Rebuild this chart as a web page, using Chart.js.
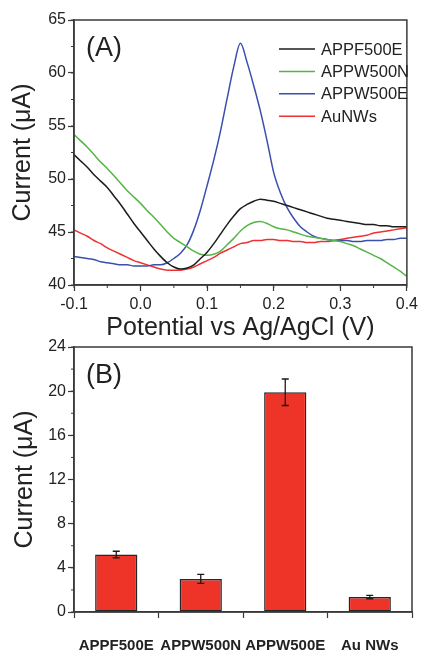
<!DOCTYPE html>
<html>
<head>
<meta charset="utf-8">
<script src="https://cdn.jsdelivr.net/npm/chart.js@4.4.0/dist/chart.umd.min.js"></script>
<style>
  html, body { margin: 0; padding: 0; background: #ffffff; }
  #wrap { position: relative; width: 422px; height: 653px; overflow: hidden; }
  #cvA { position: absolute; left: 0; top: 0; }
  #cvB { position: absolute; left: 0; top: 330px; }
</style>
</head>
<body>
<div id="wrap">
  <canvas id="cvB" width="422" height="323"></canvas>
  <canvas id="cvA" width="422" height="345"></canvas>
</div>
<script>
// Panel (A): DPV curves, potential in V
const potential = [
  -0.10, -0.09, -0.08, -0.07, -0.06, -0.05, -0.04, -0.03, -0.02, -0.01,
   0.00,  0.01,  0.02,  0.03,  0.04,  0.05,  0.06,  0.07,  0.08,  0.09,
   0.10,  0.11,  0.12,  0.13,  0.14,  0.15,  0.16,  0.17,  0.18,  0.19,
   0.20,  0.21,  0.22,  0.23,  0.24,  0.25,  0.26,  0.27,  0.28,  0.29,
   0.30,  0.31,  0.32,  0.33,  0.34,  0.35,  0.36,  0.37,  0.38,  0.39, 0.40
];
const appf500e = [
  52.3, 51.7, 51.1, 50.4, 49.8, 49.2, 48.4, 47.6, 46.7, 45.8,
  45.0, 44.2, 43.4, 42.7, 42.1, 41.7, 41.5, 41.6, 41.9, 42.5,
  43.1, 43.9, 44.8, 45.7, 46.5, 47.2, 47.6, 47.9, 48.1, 48.0,
  47.9, 47.7, 47.5, 47.3, 47.1, 46.9, 46.7, 46.5, 46.3, 46.2,
  46.1, 46.0, 45.9, 45.8, 45.7, 45.7, 45.6, 45.6, 45.5, 45.5, 45.5
];
const appw500n = [
  54.2, 53.6, 53.0, 52.3, 51.6, 51.0, 50.3, 49.6, 48.9, 48.3,
  47.7, 47.0, 46.4, 45.7, 45.0, 44.4, 44.0, 43.6, 43.2, 42.9,
  42.8, 42.9, 43.2, 43.8, 44.4, 45.1, 45.6, 45.9, 46.0, 45.8,
  45.5, 45.3, 45.2, 45.0, 44.8, 44.6, 44.5, 44.4, 44.3, 44.2,
  44.1, 43.9, 43.7, 43.4, 43.1, 42.8, 42.5, 42.1, 41.7, 41.3, 40.8
];
const appw500e = [
  42.7, 42.6, 42.5, 42.4, 42.2, 42.1, 42.0, 41.9, 41.9, 41.8,
  41.8, 41.8, 41.9, 41.9, 42.1, 42.5, 43.0, 43.8, 45.2, 47.1,
  49.4, 51.8, 54.5, 57.6, 60.6, 62.8, 61.0, 58.8, 56.4, 53.6,
  50.6, 48.7, 47.3, 46.3, 45.5, 45.0, 44.6, 44.4, 44.3, 44.2,
  44.2, 44.2, 44.1, 44.1, 44.2, 44.2, 44.2, 44.3, 44.3, 44.4, 44.4
];
const aunws = [
  45.2, 44.9, 44.6, 44.2, 43.9, 43.5, 43.2, 42.9, 42.6, 42.3,
  42.1, 41.9, 41.7, 41.5, 41.4, 41.4, 41.4, 41.5, 41.7, 42.0,
  42.3, 42.6, 43.0, 43.3, 43.6, 43.9, 44.0, 44.2, 44.2, 44.3,
  44.3, 44.2, 44.2, 44.1, 44.1, 44.0, 44.0, 44.1, 44.1, 44.2,
  44.3, 44.4, 44.5, 44.6, 44.7, 44.9, 45.0, 45.1, 45.2, 45.3, 45.4
];
const curveLabels = ['APPF500E', 'APPW500N', 'APPW500E', 'AuNWs'];
const curveColors = ['#1c1c1c', '#55b446', '#3a4fae', '#ec3232'];

// Panel (B): peak currents
const barCategories = ['APPF500E', 'APPW500N', 'APPW500E', 'Au NWs'];
const barValues = [5.2, 3.0, 19.9, 1.35];
const barErrors = [0.3, 0.4, 1.2, 0.15];

const FONT = "'Liberation Sans', Arial, sans-serif";
const INK = '#222222';
const FRAME = '#3a3a3a';

Chart.defaults.font.family = FONT;
Chart.defaults.color = INK;
Chart.defaults.animation = false;

const toXY = ys => ys.map((y, i) => ({ x: potential[i], y: y }));

// frame around the plot area plus short minor ticks
const framePlugin = {
  id: 'frame',
  afterDraw(chart, args, opts) {
    const { ctx, chartArea: a } = chart;
    ctx.save();
    ctx.strokeStyle = FRAME;
    ctx.lineWidth = 1.5;
    ctx.strokeRect(a.left, a.top, a.right - a.left, a.bottom - a.top);
    ctx.lineWidth = 1;
    (opts.minor || []).forEach(m => {
      const scale = chart.scales[m.axis];
      for (let v = scale.min; v <= scale.max + 1e-9; v += m.step) {
        const p = scale.getPixelForValue(v);
        ctx.beginPath();
        if (m.axis === 'x') {
          ctx.moveTo(p, a.bottom);
          ctx.lineTo(p, a.bottom + 3);
        } else {
          ctx.moveTo(a.left, p);
          ctx.lineTo(a.left - 3, p);
        }
        ctx.stroke();
      }
    });
    if (opts.label) {
      ctx.fillStyle = INK;
      ctx.font = '27px ' + FONT;
      ctx.textAlign = 'left';
      ctx.textBaseline = 'middle';
      ctx.fillText(opts.label, a.left + 12, a.top + 29);
    }
    ctx.restore();
  }
};

// legend drawn as short lines with labels, top right
const lineLegend = {
  id: 'lineLegend',
  afterDraw(chart, args, opts) {
    if (!opts.show) return;
    const ctx = chart.ctx;
    ctx.save();
    ctx.font = '16.5px ' + FONT;
    ctx.textAlign = 'left';
    ctx.textBaseline = 'middle';
    chart.data.datasets.forEach((ds, i) => {
      const y = 49 + i * 22.4;
      ctx.strokeStyle = ds.borderColor;
      ctx.lineWidth = 1.5;
      ctx.beginPath();
      ctx.moveTo(279, y);
      ctx.lineTo(315, y);
      ctx.stroke();
      ctx.fillStyle = INK;
      ctx.fillText(ds.label, 321, y + 1);
    });
    ctx.restore();
  }
};

// error bars for the bar chart
const errorBars = {
  id: 'errorBars',
  afterDatasetsDraw(chart) {
    const meta = chart.getDatasetMeta(0);
    const yScale = chart.scales.y;
    const ctx = chart.ctx;
    ctx.save();
    ctx.strokeStyle = '#1a1a1a';
    ctx.lineWidth = 1.3;
    meta.data.forEach((bar, i) => {
      const top = yScale.getPixelForValue(barValues[i] + barErrors[i]);
      const bot = yScale.getPixelForValue(barValues[i] - barErrors[i]);
      ctx.beginPath();
      ctx.moveTo(bar.x, top); ctx.lineTo(bar.x, bot);
      ctx.moveTo(bar.x - 3.5, top); ctx.lineTo(bar.x + 3.5, top);
      ctx.moveTo(bar.x - 3.5, bot); ctx.lineTo(bar.x + 3.5, bot);
      ctx.stroke();
    });
    ctx.restore();
  }
};

const axisCommon = {
  grid: { drawOnChartArea: false, drawTicks: true, tickLength: 6, color: FRAME, tickWidth: 1.2 },
  border: { display: true, color: FRAME, width: 1.5 }
};

// Panel A
new Chart(document.getElementById('cvA'), {
  type: 'line',
  data: {
    datasets: [appf500e, appw500n, appw500e, aunws].map((ys, i) => ({
      label: curveLabels[i],
      data: toXY(ys),
      borderColor: curveColors[i],
      borderWidth: 1.5,
      pointRadius: 0,
      cubicInterpolationMode: 'monotone',
      fill: false
    }))
  },
  options: {
    responsive: false,
    devicePixelRatio: 1,
    layout: { padding: { top: 20, right: 10, left: 0, bottom: 0 } },
    plugins: {
      legend: { display: false },
      tooltip: { enabled: false },
      frame: { label: '(A)', minor: [{ axis: 'x', step: 0.05 }, { axis: 'y', step: 2.5 }] },
      lineLegend: { show: true }
    },
    scales: {
      x: {
        ...axisCommon,
        type: 'linear',
        min: -0.1,
        max: 0.4,
        afterFit: s => { s.height = 60; },
        ticks: {
          stepSize: 0.1,
          padding: 4,
          maxRotation: 0,
          font: { size: 16 },
          callback: v => v.toFixed(1)
        },
        title: {
          display: true,
          text: 'Potential vs Ag/AgCl (V)',
          font: { size: 25 },
          padding: { top: 0, bottom: 2 }
        }
      },
      y: {
        ...axisCommon,
        min: 40,
        max: 65,
        afterFit: s => { s.width = 74; },
        ticks: { stepSize: 5, padding: 2, font: { size: 16 } },
        title: {
          display: true,
          text: 'Current (\u03bcA)',
          font: { size: 25 },
          padding: { top: 8, bottom: 0 }
        }
      }
    }
  },
  plugins: [framePlugin, lineLegend]
});

// Panel B
new Chart(document.getElementById('cvB'), {
  type: 'bar',
  data: {
    labels: barCategories,
    datasets: [{
      label: 'Current',
      data: barValues,
      backgroundColor: '#ee3329',
      borderColor: '#262626',
      borderWidth: 1.5,
      borderSkipped: false,
      categoryPercentage: 1,
      barPercentage: 0.5
    }]
  },
  options: {
    responsive: false,
    devicePixelRatio: 1,
    layout: { padding: { top: 17, right: 10, left: 0, bottom: 0 } },
    plugins: {
      legend: { display: false },
      tooltip: { enabled: false },
      frame: { label: '(B)', minor: [{ axis: 'y', step: 2 }] },
      lineLegend: { show: false }
    },
    scales: {
      x: {
        ...axisCommon,
        afterFit: s => { s.height = 41; },
        ticks: {
          padding: 19,
          maxRotation: 0,
          autoSkip: false,
          font: { size: 15, weight: 'bold' }
        }
      },
      y: {
        ...axisCommon,
        min: 0,
        max: 24,
        afterFit: s => { s.width = 74; },
        ticks: { stepSize: 4, padding: 2, font: { size: 16 } },
        title: {
          display: true,
          text: 'Current (\u03bcA)',
          font: { size: 25 },
          padding: { top: 10, bottom: 0 }
        }
      }
    }
  },
  plugins: [framePlugin, errorBars, lineLegend]
});
</script>
</body>
</html>
